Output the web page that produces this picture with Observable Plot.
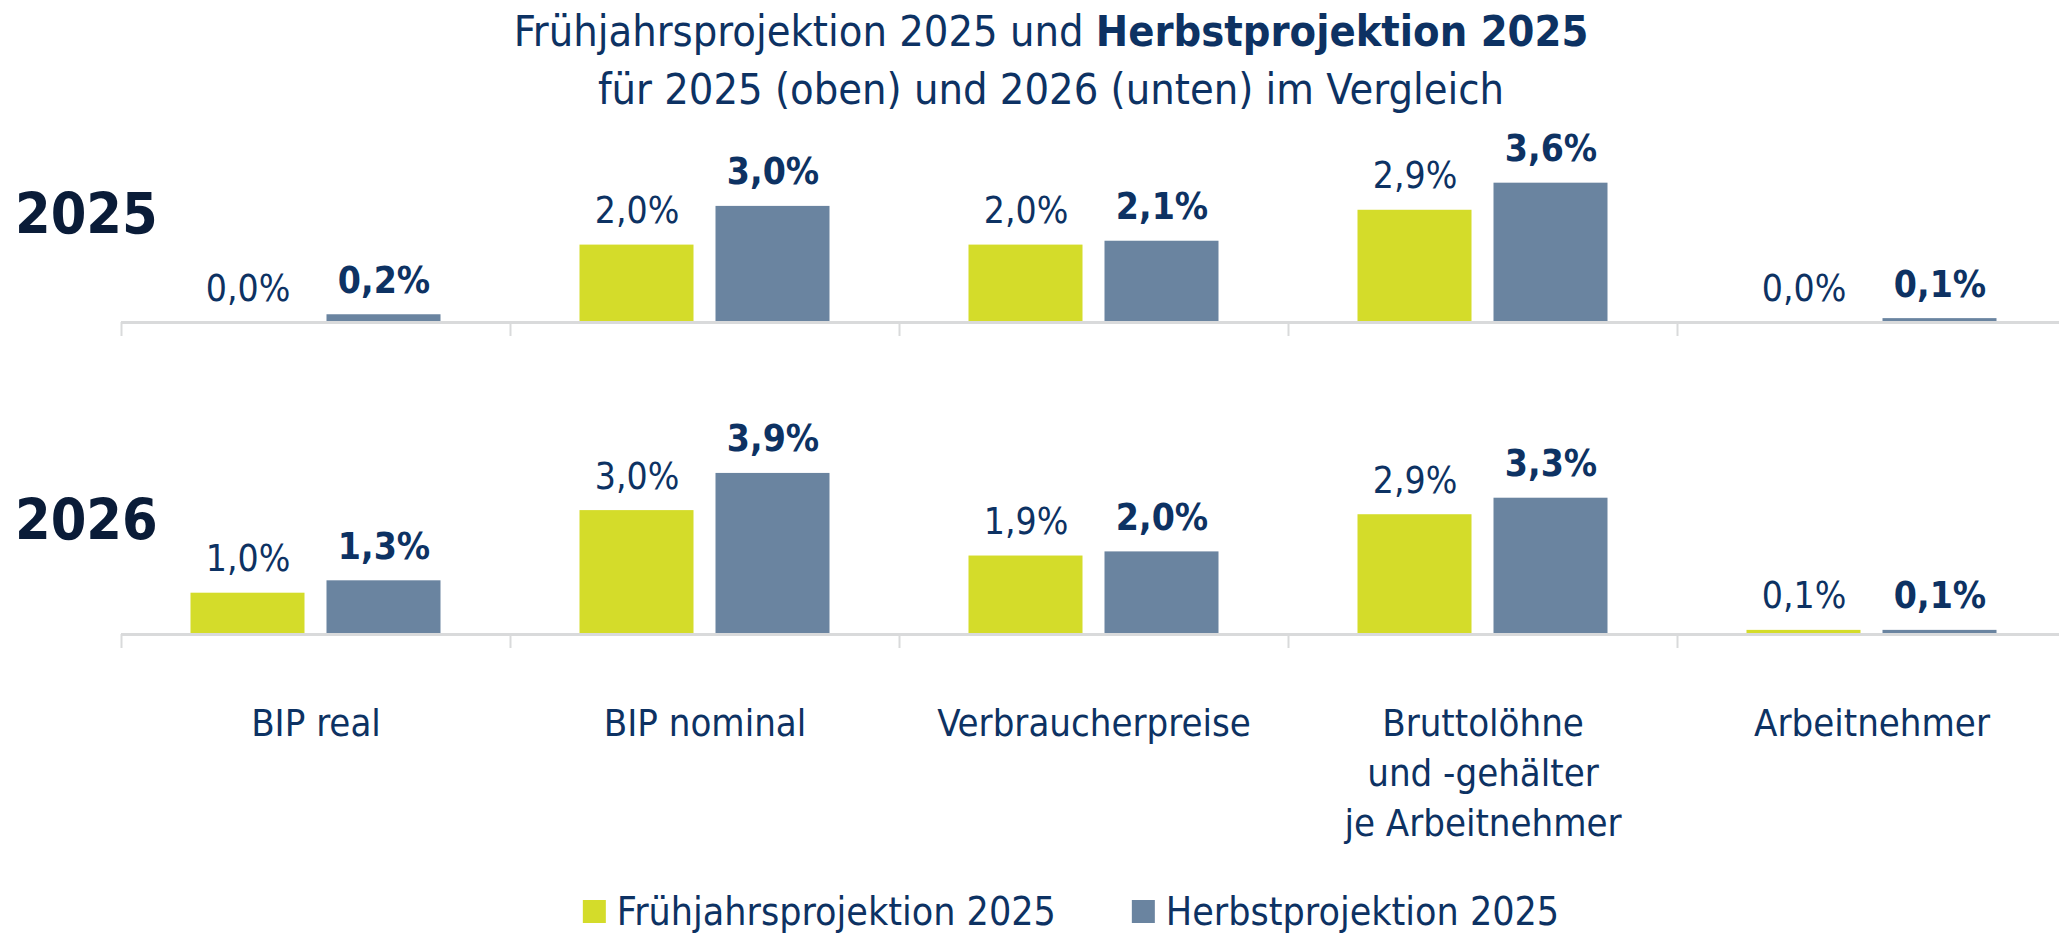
<!DOCTYPE html>
<html>
<head>
<meta charset="utf-8">
<script src="https://cdn.jsdelivr.net/npm/d3@7"></script>
<script src="https://cdn.jsdelivr.net/npm/@observablehq/plot@0.6"></script>
<style>
  html, body { margin: 0; padding: 0; background: #fff; overflow: hidden; }
  body { width: 2059px; height: 934px; position: relative;
         font-family: "DejaVu Sans Condensed", "DejaVu Sans", sans-serif; font-stretch: condensed; color: #0d3263; }
  #title { position: absolute; left: 1051px; top: 2px; transform: translateX(-50%); text-align: center;
           font-size: 43px; line-height: 58px; white-space: nowrap; color: #0d3263; }
  .rowlabel { position: absolute; left: 15px; font-weight: bold; font-size: 57px; color: #0a1c38; line-height: 1; }
  .chart { position: absolute; left: 0; }
  #legend { position: absolute; left: 1071px; top: 889px; transform: translateX(-50%); display: flex; align-items: center;
            white-space: nowrap; font-size: 39px; color: #0d3263; }
  .sw { width: 23px; height: 23px; display: inline-block; margin-right: 11px; }
  .item { display: flex; align-items: center; }
  .item + .item { margin-left: 76px; }
</style>
</head>
<body>
<div id="title"></div>
<div id="r2025" class="rowlabel"></div>
<div id="r2026" class="rowlabel"></div>
<div id="c2025" class="chart"></div>
<div id="c2026" class="chart"></div>
<div id="legend"></div>
<script>
// ---- data ----
const categories = ["BIP real", "BIP nominal", "Verbraucherpreise", "Bruttolöhne\nund -gehälter\nje Arbeitnehmer", "Arbeitnehmer"];
const series = ["Frühjahrsprojektion 2025", "Herbstprojektion 2025"];
const years = ["2025", "2026"];
const fruehjahr2025 = [0.0, 2.0, 2.0, 2.9, 0.0];
const herbst2025 = [0.2, 3.0, 2.1, 3.6, 0.1];
const fruehjahr2026 = [1.0, 3.0, 1.9, 2.9, 0.1];
const herbst2026 = [1.3, 3.9, 2.0, 3.3, 0.1];
const colors = ["#d4dc2a", "#6a84a0"];
const navy = "#0d3263";

function rows(f, h) {
  return [
    ...categories.map((c, i) => ({category: c, series: series[0], value: f[i]})),
    ...categories.map((c, i) => ({category: c, series: series[1], value: h[i]}))
  ];
}
const fmt = d => d.value.toFixed(1).replace(".", ",") + "%";
const font = "'DejaVu Sans Condensed', 'DejaVu Sans', sans-serif";

function makeRow(data, {height, marginTop, marginBottom, pxPerUnit, labels}) {
  const F = data.filter(d => d.series === series[0]);
  const H = data.filter(d => d.series === series[1]);
  const frameH = height - marginTop - marginBottom;
  const marks = [
    Plot.barY(F, {x: "category", y: "value", fill: "series", insetLeft: 69.5, insetRight: 205.5}),
    Plot.barY(H, {x: "category", y: "value", fill: "series", insetLeft: 205.5, insetRight: 69.5}),
    Plot.ruleY([0], {stroke: "#d9dadb", strokeWidth: 3}),
    Plot.axisX({tickSize: 14, tickFormat: () => "", label: null, dx: -194.5, stroke: "#d9dadb", strokeWidth: 2}),
    Plot.text(F, {x: "category", y: "value", text: fmt, dx: -68, dy: -22, lineAnchor: "bottom", fontSize: 37, fill: navy}),
    Plot.text(H, {x: "category", y: "value", text: fmt, dx: 68, dy: -22, lineAnchor: "bottom", fontSize: 37, fontWeight: "bold", fill: navy})
  ];
  if (labels) {
    marks.push(Plot.axisX({tickSize: 0, tickPadding: 66, fontSize: 38, lineHeight: 50 / 38, fill: navy, label: null}));
  }
  return Plot.plot({
    width: 2059, height, marginLeft: 121, marginRight: -7, marginTop, marginBottom,
    x: {domain: categories, padding: 0, label: null},
    y: {domain: [0, frameH / pxPerUnit], axis: null},
    color: {domain: series, range: colors},
    style: {fontFamily: font, overflow: "visible", background: "transparent"},
    marks
  });
}

// title
document.getElementById("title").innerHTML =
  "Frühjahrsprojektion 2025 und <b>Herbstprojektion 2025</b><br>für 2025 (oben) und 2026 (unten) im Vergleich";

// row labels
const r1 = document.getElementById("r2025"); r1.textContent = years[0]; r1.style.top = "186px";
const r2 = document.getElementById("r2026"); r2.textContent = years[1]; r2.style.top = "492px";

// row 2025: baseline at y=322
const c1 = document.getElementById("c2025");
c1.style.top = (322 - 230) + "px";
c1.appendChild(makeRow(rows(fruehjahr2025, herbst2025), {height: 250, marginTop: 0, marginBottom: 20, pxPerUnit: 38.7, labels: false}));

// row 2026: baseline at y=634
const c2 = document.getElementById("c2026");
c2.style.top = (634 - 240) + "px";
c2.appendChild(makeRow(rows(fruehjahr2026, herbst2026), {height: 500, marginTop: 0, marginBottom: 260, pxPerUnit: 41.3, labels: true}));

// legend
const lg = document.getElementById("legend");
series.forEach((s, i) => {
  const it = document.createElement("div"); it.className = "item";
  const sw = document.createElement("span"); sw.className = "sw"; sw.style.background = colors[i];
  const tx = document.createElement("span"); tx.textContent = s;
  it.appendChild(sw); it.appendChild(tx); lg.appendChild(it);
});
</script>
</body>
</html>
